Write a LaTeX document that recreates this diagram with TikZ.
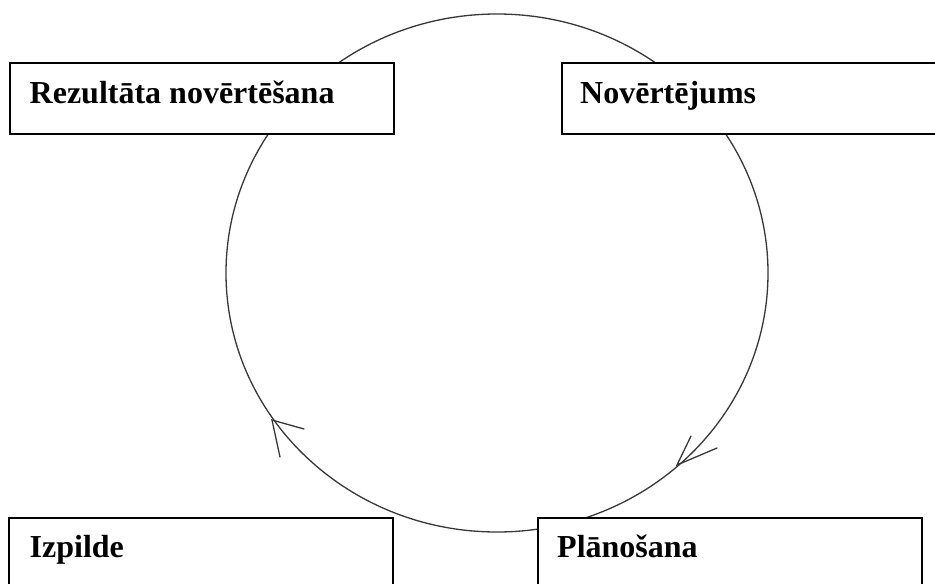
\documentclass[tikz,border=0pt]{standalone}
\usepackage{fontspec}
\setmainfont{Liberation Serif}
\begin{document}
\begin{tikzpicture}[x=1pt,y=-1pt,
  ring/.style={draw=black!78, line width=1.3pt},
  barb/.style={draw=black!78, line width=1.3pt, line cap=round},
  stage/.style={draw=black, line width=1.8pt, fill=white, inner sep=0pt,
    minimum width=384pt, anchor=north west},
  stagetext/.style={anchor=base west, inner sep=0pt,
    font=\fontsize{32}{38}\selectfont\bfseries}]
  \clip (0,0) rectangle (935,584);
  \fill[white] (0,0) rectangle (935,584);

  % the cycle
  \draw[ring] (497,273) ellipse [x radius=271pt, y radius=259pt];

  % open arrowheads on the cycle (clockwise flow)
  \coordinate (tipA) at (677,465);
  \coordinate (barbA1) at (691,436);
  \coordinate (barbA2) at (717,448);
  \draw[barb] (barbA1) -- (tipA) -- (barbA2);
  \coordinate (tipB) at (272,420);
  \coordinate (barbB1) at (280,457);
  \coordinate (barbB2) at (304,429);
  \draw[barb] (barbB1) -- (tipB) -- (barbB2);

  % stage boxes
  \node[stage, minimum height=71pt] (resbox) at (9,62) {};
  \node[stage, minimum height=71pt] (evalbox) at (561,62) {};
  \node[stage, minimum height=80pt] (implbox) at (8,517) {};
  \node[stage, minimum height=80pt] (planbox) at (537,517) {};

  % stage titles
  \node[stagetext] (restext) at (29.5,103) {Rezultāta novērtēšana};
  \node[stagetext] (evaltext) at (580,103) {Novērtējums};
  \node[stagetext] (impltext) at (29.5,557) {Izpilde};
  \node[stagetext] (plantext) at (557,557) {Plānošana};
\end{tikzpicture}
\end{document}
